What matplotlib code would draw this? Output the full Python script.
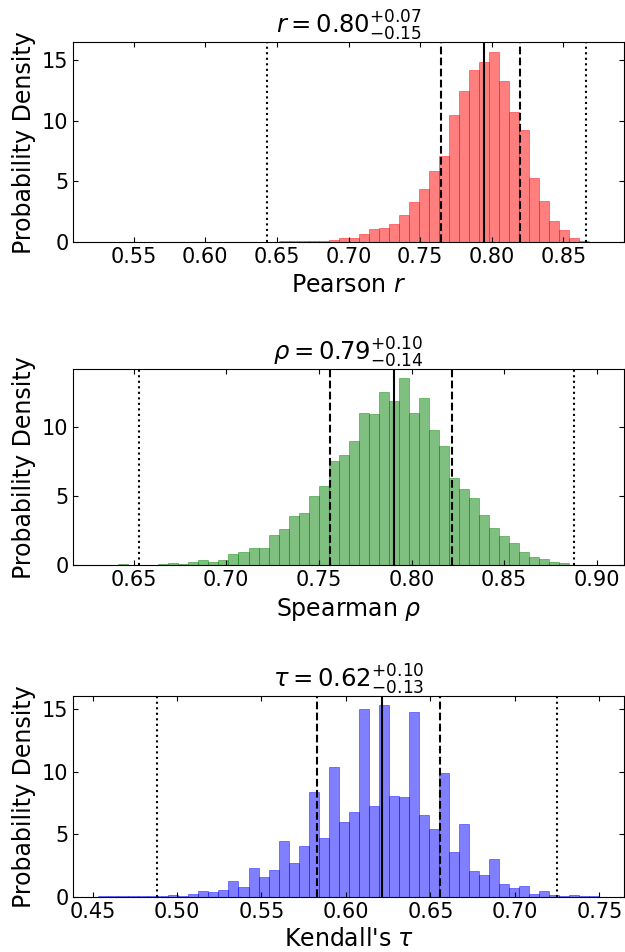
import numpy as np
import matplotlib
matplotlib.use('Agg')
import matplotlib.pyplot as plt

# bin ranges (lo, hi) of the 50-bin histograms
pearson_range = (0.5253, 0.8749)
spearman_range = (0.6309, 0.9012)
kendall_range = (0.4534, 0.7498)

# probability density per bin
pearson_density = [
    0, 0, 0, 0, 0, 0, 0, 0, 0, 0,
    0, 0, 0, 0, 0, 0, 0.05, 0.03, 0.07, 0.07,
    0.08, 0.08, 0.09, 0.23, 0.39, 0.38, 0.67, 1.09, 1.17, 1.50,
    2.27, 3.31, 4.34, 5.85, 7.08, 10.44, 12.40, 14.13, 14.78, 15.68,
    13.22, 10.68, 9.23, 5.30, 3.39, 1.75, 1.01, 0.36, 0.14, 0.05,
]
spearman_density = [
    0.02, 0, 0.07, 0, 0, 0, 0.07, 0.14, 0.07, 0.27,
    0.41, 0.27, 0.41, 0.79, 0.95, 1.29, 1.22, 2.16, 2.60, 3.55,
    3.77, 5.00, 5.72, 7.54, 7.97, 8.99, 11.04, 10.94, 12.54, 11.88,
    13.55, 11.01, 12.10, 9.78, 8.62, 6.30, 5.51, 4.86, 3.65, 2.68,
    2.10, 1.62, 0.94, 0.58, 0.43, 0.22, 0.14, 0.05, 0, 0.02,
]
kendall_density = [
    0.04, 0.04, 0.04, 0.04, 0.04, 0.08, 0.10, 0.15, 0.10, 0.20,
    0.46, 0.40, 0.55, 1.30, 0.80, 2.32, 1.60, 2.16, 4.48, 2.72,
    4.08, 8.37, 4.69, 10.37, 5.97, 6.77, 15.01, 7.25, 15.33, 8.05,
    7.97, 14.77, 6.53, 5.41, 9.89, 3.57, 5.81, 2.06, 1.74, 3.02,
    1.02, 0.70, 0.86, 0.22, 0.46, 0.14, 0.06, 0.14, 0.06, 0.03,
]

# vertical markers: 2.5%, 16%, 50%, 84%, 97.5%
pearson_marks = [0.6429, 0.7646, 0.7946, 0.8198, 0.8656]
spearman_marks = [0.6530, 0.7560, 0.7904, 0.8216, 0.8879]
kendall_marks = [0.4880, 0.5827, 0.6212, 0.6557, 0.7248]

titles = [r'$r = 0.80^{+0.07}_{-0.15}$',
          r'$\rho = 0.79^{+0.10}_{-0.14}$',
          r'$\tau = 0.62^{+0.10}_{-0.13}$']
xlabels = [r'Pearson $r$', r'Spearman $\rho$', r"Kendall's $\tau$"]
colors = ['red', 'green', 'blue']
xlims = [(0.5078, 0.8924), (0.6174, 0.9147), (0.4386, 0.7646)]

W, H = 625, 952
fig = plt.figure(figsize=(W / 100, H / 100), dpi=100)
# axes boxes in pixels: left, top, right, bottom
boxes = [(73.3, 42, 624, 242.3), (73.3, 369, 624, 565.3), (73.3, 695.6, 624, 896.8)]

panels = zip(boxes, [pearson_range, spearman_range, kendall_range],
             [pearson_density, spearman_density, kendall_density],
             [pearson_marks, spearman_marks, kendall_marks],
             titles, xlabels, colors, xlims)
for (l, t, r, b), rng_, dens, marks, title, xlabel, col, xl in panels:
    ax = fig.add_axes([l / W, 1 - b / H, (r - l) / W, (b - t) / H])
    edges = np.linspace(rng_[0], rng_[1], len(dens) + 1)
    ax.hist(edges[:-1], bins=edges, weights=dens, color=col, alpha=0.5,
            edgecolor=col, linewidth=0.6)
    styles = [':', '--', '-', '--', ':']
    for m, ls in zip(marks, styles):
        ax.axvline(m, color='black', linestyle=ls, linewidth=1.5)
    ax.set_xlim(*xl)
    ax.set_title(title, fontsize=17.5)
    ax.set_xlabel(xlabel, fontsize=17)
    ax.set_ylabel('Probability Density', fontsize=17)
    ax.tick_params(direction='in', top=True, right=True, labelsize=15)

fig.savefig('out.png', dpi=100)
